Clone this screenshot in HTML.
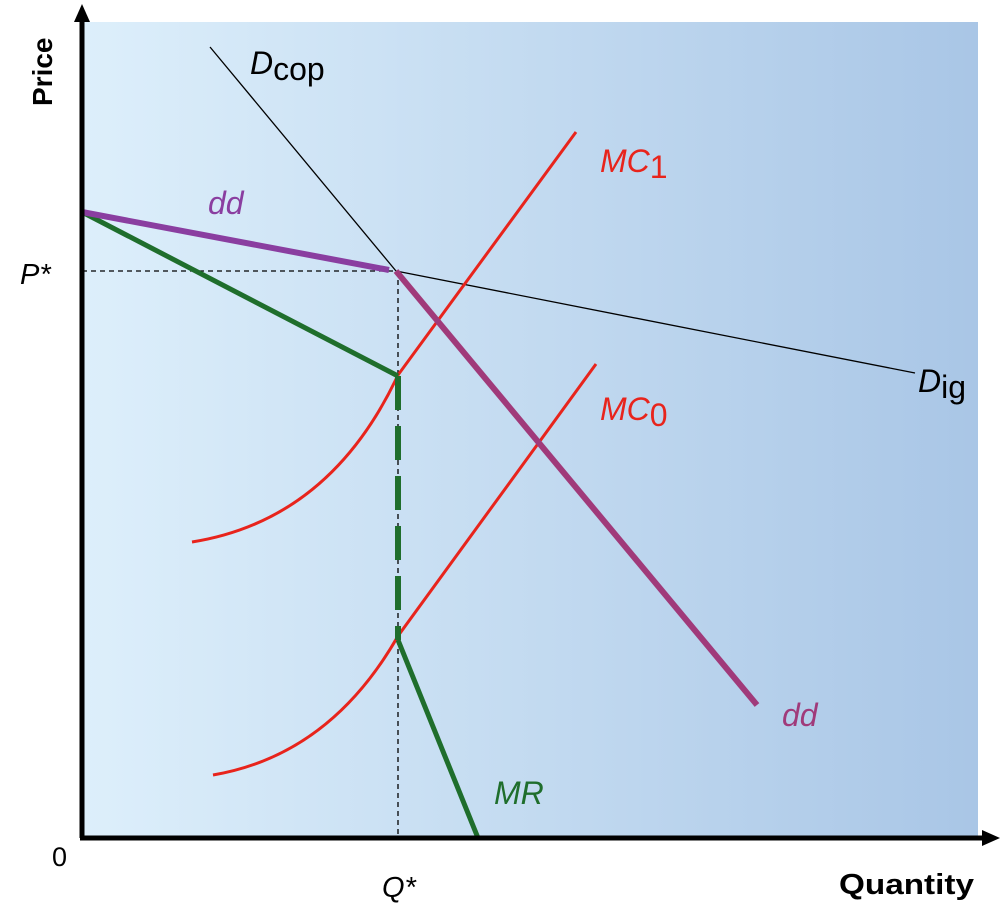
<!DOCTYPE html>
<html><head><meta charset="utf-8"><style>
html,body{margin:0;padding:0;background:#fff;}
svg{display:block;font-family:"Liberation Sans",sans-serif;}
</style></head><body>
<svg width="1002" height="920" viewBox="0 0 1002 920" xmlns="http://www.w3.org/2000/svg">
<defs>
<linearGradient id="bg" x1="0" y1="0" x2="1" y2="0">
<stop offset="0" stop-color="#ddeffb"/>
<stop offset="1" stop-color="#a9c6e6"/>
</linearGradient>
</defs>
<rect x="82" y="22" width="896" height="816" fill="url(#bg)"/>
<line x1="82" y1="271" x2="396" y2="271" stroke="#000" stroke-width="1.3" stroke-dasharray="5,4"/>
<line x1="398" y1="271" x2="398" y2="838" stroke="#000" stroke-width="1.3" stroke-dasharray="5,4"/>
<line x1="210" y1="47" x2="396" y2="271" stroke="#000" stroke-width="1.3"/>
<line x1="396" y1="271" x2="915" y2="373" stroke="#000" stroke-width="1.3"/>
<path d="M192,542 Q330,520 398,375 L576,132" fill="none" stroke="#e8241c" stroke-width="3"/>
<path d="M213,775 Q330,755 398,636 L596,364" fill="none" stroke="#e8241c" stroke-width="3"/>
<polyline points="82,212 398,376" fill="none" stroke="#1f6e2c" stroke-width="5"/>
<line x1="398" y1="376" x2="398" y2="640" stroke="#1f6e2c" stroke-width="6" stroke-dasharray="34,16"/>
<polyline points="398,640 478,838" fill="none" stroke="#1f6e2c" stroke-width="5"/>
<polyline points="82,212 389,270" fill="none" stroke="#8a3ea0" stroke-width="6"/>
<polyline points="396,271 757,705" fill="none" stroke="#a03a7a" stroke-width="6"/>
<line x1="82" y1="838" x2="82" y2="18" stroke="#000" stroke-width="5"/>
<polygon points="82,4 74,22 90,22" fill="#000"/>
<line x1="80" y1="838" x2="988" y2="838" stroke="#000" stroke-width="5"/>
<polygon points="1000,838 982,830 982,846" fill="#000"/>
<text transform="translate(52,106) rotate(-90)" font-size="28" font-weight="bold">Price</text>
<text x="839" y="894" font-size="29" font-weight="bold" textLength="135" lengthAdjust="spacingAndGlyphs">Quantity</text>
<text x="52" y="866" font-size="27">0</text>
<text x="20" y="284" font-size="29" font-style="italic">P*</text>
<text x="382" y="897" font-size="29" font-style="italic">Q*</text>
<text x="250" y="74" font-size="32" font-style="italic">D<tspan font-style="normal" dy="6">cop</tspan></text>
<text x="600" y="172" font-size="32" font-style="italic" fill="#e8241c">MC<tspan font-style="normal" dy="6">1</tspan></text>
<text x="600" y="420" font-size="32" font-style="italic" fill="#e8241c">MC<tspan font-style="normal" dy="6">0</tspan></text>
<text x="918" y="392" font-size="32" font-style="italic">D<tspan font-style="normal" dy="6">ig</tspan></text>
<text x="208" y="214" font-size="32" font-style="italic" fill="#8a3ea0">dd</text>
<text x="782" y="726" font-size="32" font-style="italic" fill="#a03a7a">dd</text>
<text x="494" y="804" font-size="32" font-style="italic" fill="#1f6e2c">MR</text>
</svg>
</body></html>
